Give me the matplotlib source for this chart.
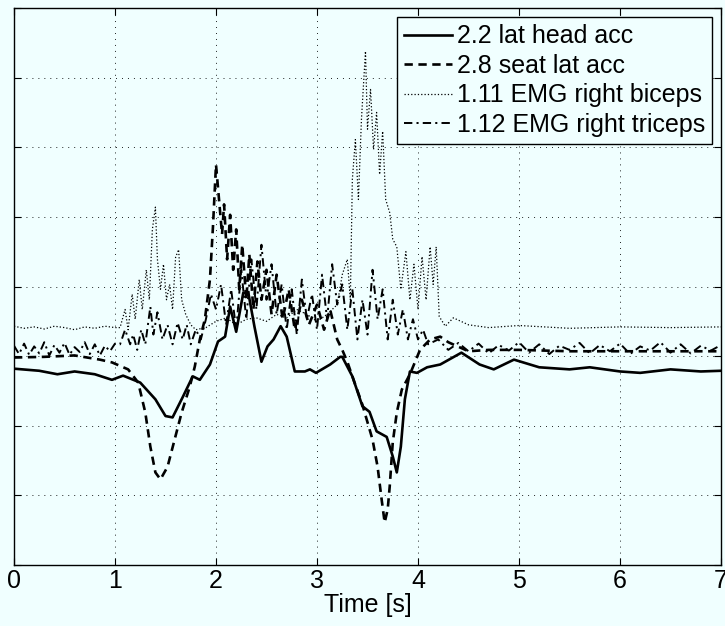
import matplotlib
matplotlib.use('Agg')
import matplotlib.pyplot as plt

plt.rcParams['font.family'] = ['Liberation Sans', 'DejaVu Sans']
plt.rcParams['lines.scale_dashes'] = False

# 2.2 lateral head acceleration (solid)
head_t = [0.0, 0.25, 0.43, 0.6, 0.8, 0.97, 1.08, 1.25, 1.4, 1.5, 1.57, 1.67, 1.77,
          1.84, 1.94, 2.02, 2.09, 2.14, 2.2, 2.27, 2.32, 2.38, 2.45, 2.51, 2.57,
          2.64, 2.7, 2.78, 2.88, 2.93, 2.99, 3.13, 3.23, 3.25, 3.35, 3.45, 3.52,
          3.59, 3.69, 3.75, 3.79, 3.83, 3.87, 3.92, 3.99, 4.09, 4.22, 4.43, 4.61,
          4.75, 4.95, 5.2, 5.5, 5.7, 6.0, 6.2, 6.5, 6.8, 7.0]
head_v = [-1.18, -1.21, -1.26, -1.22, -1.26, -1.34, -1.28, -1.38, -1.62, -1.86,
          -1.88, -1.59, -1.29, -1.34, -1.12, -0.79, -0.72, -0.29, -0.65, -0.09,
          -0.09, -0.57, -1.08, -0.86, -0.76, -0.57, -0.72, -1.22, -1.22, -1.19,
          -1.24, -1.12, -1.01, -1.01, -1.29, -1.72, -1.80, -2.08, -2.16, -2.44,
          -2.67, -2.30, -1.62, -1.22, -1.24, -1.16, -1.12, -0.95, -1.12, -1.19,
          -1.05, -1.16, -1.19, -1.16, -1.22, -1.24, -1.19, -1.22, -1.21]

# 2.8 lateral seat acceleration (dashed)
seat_t = [0.0, 0.3, 0.6, 0.85, 0.97, 1.13, 1.23, 1.3, 1.35, 1.4, 1.45, 1.52, 1.59,
          1.66, 1.74, 1.79, 1.84, 1.89, 1.94, 1.97, 2.0, 2.03, 2.06, 2.08, 2.11,
          2.14, 2.17, 2.2, 2.23, 2.26, 2.3, 2.33, 2.37, 2.41, 2.45, 2.5, 2.55, 2.6,
          2.66, 2.72, 2.78, 2.85, 2.92, 3.0, 3.07, 3.13, 3.2, 3.25, 3.3, 3.35,
          3.45, 3.55, 3.6, 3.64, 3.67, 3.7, 3.72, 3.75, 3.79, 3.84, 3.92, 4.02,
          4.12, 4.22, 4.3, 4.5, 4.7, 5.0, 5.5, 6.0, 6.5, 7.0]
seat_v = [-1.02, -1.01, -0.99, -1.05, -1.09, -1.19, -1.38, -1.81, -2.30, -2.67,
          -2.77, -2.59, -2.20, -1.81, -1.44, -1.15, -0.76, -0.47, 0.10, 0.86,
          1.75, 1.25, 0.75, 1.18, 0.39, 1.03, 0.24, 0.82, -0.04, 0.60, -0.19,
          0.46, -0.33, 0.36, -0.19, 0.24, -0.40, 0.17, -0.47, -0.04, -0.62,
          -0.19, -0.55, -0.26, -0.62, -0.33, -0.76, -0.91, -1.08, -1.29, -1.70,
          -2.20, -2.59, -3.06, -3.39, -3.20, -2.87, -2.24, -1.81, -1.48, -1.26,
          -0.91, -0.76, -0.72, -0.80, -0.93, -0.91, -0.91, -0.93, -0.93, -0.93,
          -0.93]

# 1.11 EMG right biceps (dotted)
bic_t = [0.0, 0.1, 0.2, 0.3, 0.4, 0.5, 0.6, 0.7, 0.8, 0.9, 1.0, 1.05, 1.1, 1.13,
         1.17, 1.2, 1.24, 1.27, 1.31, 1.34, 1.37, 1.4, 1.42, 1.45, 1.48, 1.51,
         1.54, 1.57, 1.6, 1.63, 1.66, 1.7, 1.75, 1.8, 1.9, 2.0, 2.1, 2.2, 2.3,
         2.4, 2.5, 2.6, 2.7, 2.8, 2.9, 3.0, 3.1, 3.2, 3.25, 3.3, 3.33, 3.35,
         3.38, 3.41, 3.44, 3.48, 3.5, 3.53, 3.56, 3.59, 3.62, 3.65, 3.68, 3.72,
         3.75, 3.79, 3.83, 3.88, 3.92, 3.96, 4.0, 4.04, 4.08, 4.12, 4.15, 4.18,
         4.21, 4.27, 4.35, 4.5, 4.7, 5.0, 5.5, 6.0, 6.5, 7.0]
bic_v = [-0.57, -0.60, -0.58, -0.61, -0.57, -0.59, -0.62, -0.58, -0.60, -0.57,
         -0.59, -0.59, -0.33, -0.62, -0.11, -0.47, 0.10, -0.33, 0.24, -0.19,
         0.82, 1.14, 0.39, -0.04, 0.32, -0.19, 0.03, -0.33, 0.42, 0.53, -0.19,
         -0.40, -0.55, -0.62, -0.59, -0.50, -0.45, -0.55, -0.47, -0.45, -0.50,
         -0.40, -0.45, -0.33, -0.40, -0.50, -0.40, -0.26, 0.17, 0.39, -0.19,
         1.54, 2.11, 1.25, 2.40, 3.38, 2.26, 2.83, 1.97, 2.50, 1.61, 2.23, 1.25,
         1.06, 0.68, 0.57, -0.04, 0.50, -0.19, 0.32, -0.33, 0.43, -0.19, 0.57,
         0.03, 0.57, -0.43, -0.57, -0.45, -0.55, -0.59, -0.56, -0.60, -0.58,
         -0.59, -0.58]

# 1.12 EMG right triceps (dash-dot)
tri_t = [0.0, 0.05, 0.1, 0.15, 0.2, 0.25, 0.3, 0.35, 0.4, 0.45, 0.5, 0.55, 0.6,
         0.65, 0.7, 0.75, 0.8, 0.85, 0.9, 0.95, 1.0, 1.05, 1.1, 1.15, 1.18, 1.22,
         1.26, 1.3, 1.35, 1.38, 1.42, 1.47, 1.52, 1.57, 1.62, 1.67, 1.71, 1.75,
         1.8, 1.85, 1.9, 1.95, 2.0, 2.05, 2.1, 2.15, 2.2, 2.25, 2.3, 2.35, 2.4,
         2.45, 2.5, 2.55, 2.6, 2.65, 2.7, 2.75, 2.8, 2.85, 2.9, 2.95, 3.0, 3.05,
         3.1, 3.15, 3.2, 3.25, 3.3, 3.35, 3.4, 3.45, 3.5, 3.55, 3.6, 3.65, 3.7,
         3.75, 3.8, 3.85, 3.9, 3.95, 4.0, 4.05, 4.1, 4.2, 4.3, 4.4, 4.5, 4.6, 4.7,
         4.8, 4.9, 5.0, 5.1, 5.2, 5.3, 5.4, 5.5, 5.6, 5.7, 5.8, 5.9, 6.0, 6.1,
         6.2, 6.3, 6.4, 6.5, 6.6, 6.7, 6.8, 6.9, 7.0]
tri_v = [-0.85, -0.97, -0.82, -0.98, -0.86, -0.96, -0.80, -0.99, -0.84, -0.95,
         -0.81, -0.98, -0.87, -0.94, -0.80, -0.97, -0.83, -0.99, -0.85, -0.93,
         -0.82, -0.83, -0.62, -0.83, -0.69, -0.91, -0.62, -0.83, -0.29, -0.69,
         -0.37, -0.76, -0.55, -0.83, -0.52, -0.76, -0.55, -0.83, -0.62, -0.76,
         -0.47, -0.11, -0.33, 0.03, -0.55, -0.04, -0.62, 0.24, -0.47, 0.39,
         -0.33, 0.60, -0.19, 0.32, -0.40, 0.03, -0.62, -0.04, -0.69, 0.10,
         -0.47, -0.11, -0.62, 0.17, -0.47, 0.32, -0.26, 0.03, -0.62, -0.04,
         -0.76, -0.19, -0.69, 0.24, -0.47, -0.04, -0.76, -0.19, -0.69, -0.33,
         -0.76, -0.47, -0.76, -0.62, -0.83, -0.76, -0.91, -0.81, -0.93, -0.82,
         -0.96, -0.84, -0.92, -0.80, -0.95, -0.83, -0.97, -0.85, -0.91, -0.81,
         -0.96, -0.84, -0.93, -0.82, -0.97, -0.86, -0.92, -0.80, -0.95, -0.83,
         -0.96, -0.85, -0.92, -0.84]

x_ticks = [0, 1, 2, 3, 4, 5, 6, 7]
y_ticks = [-4, -3, -2, -1, 0, 1, 2, 3, 4]

bg = '#f0ffff'
fig = plt.figure(figsize=(7.25, 6.26), dpi=100, facecolor=bg)
ax = fig.add_axes([0.0193, 0.0974, 0.9752, 0.8898], facecolor=bg)

ax.plot(head_t, head_v, color='k', lw=1.9, label='2.2 lat head acc')
ax.plot(seat_t, seat_v, color='k', lw=1.9, dashes=(6, 4), label='2.8 seat lat acc')
ax.plot(bic_t, bic_v, color='k', lw=0.9, dashes=(0.9, 1.5), label='1.11 EMG right biceps')
ax.plot(tri_t, tri_v, color='k', lw=1.4, dashes=(6, 3, 1.5, 3), label='1.12 EMG right triceps')

ax.set_xlim(0, 7)
ax.set_ylim(-4, 4)
ax.set_xticks(x_ticks)
ax.set_yticks(y_ticks)
ax.set_yticklabels([])
ax.tick_params(direction='in', length=5, top=True, right=True, labelsize=18, pad=3)
ax.grid(True, color='k', lw=0.6, dashes=(0.7, 3.6))
for s in ax.spines.values():
    s.set_linewidth(1.0)
ax.set_xlabel('Time [s]', fontsize=18, labelpad=0)

leg = ax.legend(loc='upper right', fontsize=18, frameon=True, fancybox=False,
                edgecolor='k', facecolor=bg, framealpha=1, handlelength=1.9,
                handletextpad=0.2, labelspacing=0.22, borderpad=0.3,
                borderaxespad=0.35)
leg.get_frame().set_linewidth(1.0)

fig.savefig('out.png', dpi=100, facecolor=bg)
